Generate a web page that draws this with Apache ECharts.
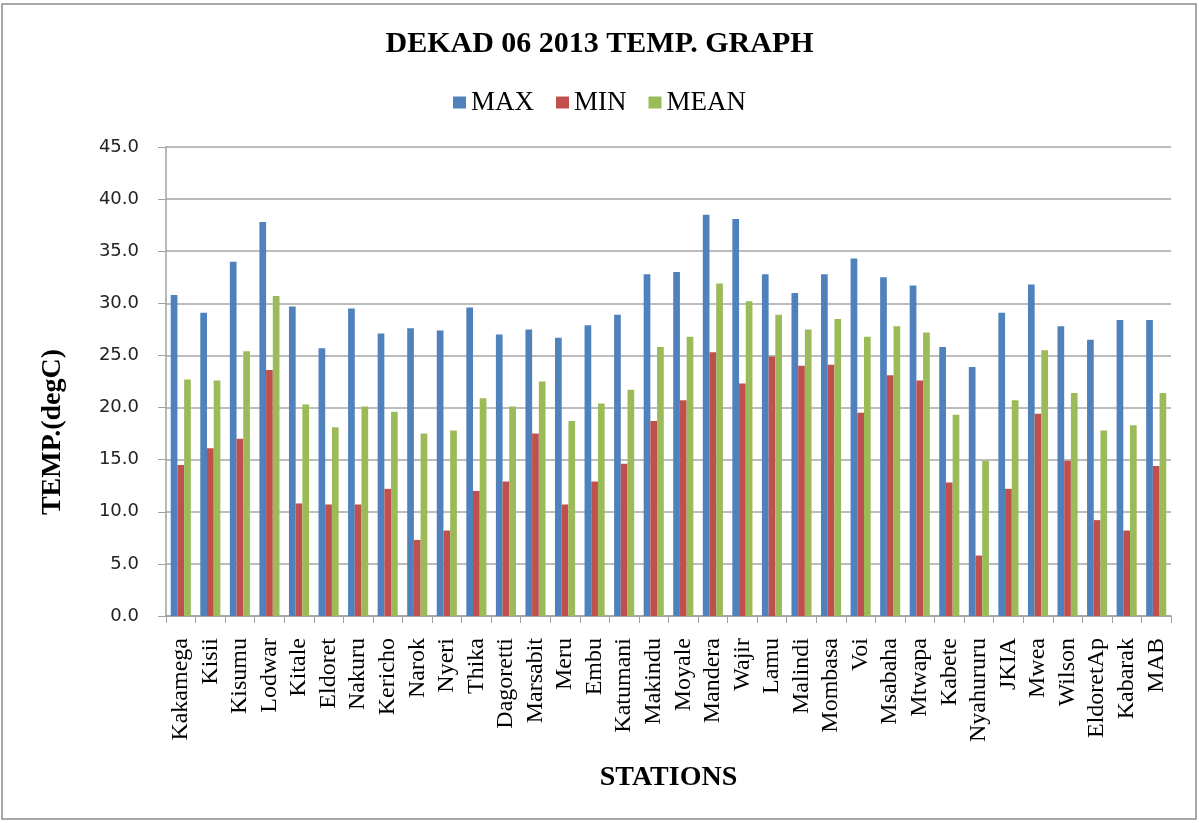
<!DOCTYPE html>
<html>
<head>
<meta charset="utf-8">
<script src="https://cdn.jsdelivr.net/npm/echarts@6/dist/echarts.min.js"></script>
<style>
  html, body { margin: 0; padding: 0; background: #fff; }
  #chart { width: 1199px; height: 823px; }
</style>
</head>
<body>
<div id="chart"></div>
<script>
var stations = ['Kakamega', 'Kisii', 'Kisumu', 'Lodwar', 'Kitale', 'Eldoret', 'Nakuru', 'Kericho',
  'Narok', 'Nyeri', 'Thika', 'Dagoretti', 'Marsabit', 'Meru', 'Embu', 'Katumani', 'Makindu',
  'Moyale', 'Mandera', 'Wajir', 'Lamu', 'Malindi', 'Mombasa', 'Voi', 'Msabaha', 'Mtwapa',
  'Kabete', 'Nyahururu', 'JKIA', 'Mwea', 'Wilson', 'EldoretAp', 'Kabarak', 'MAB'];

var maxTemp = [30.8, 29.1, 34.0, 37.8, 29.7, 25.7, 29.5, 27.1, 27.6, 27.4, 29.6, 27.0, 27.5,
  26.7, 27.9, 28.9, 32.8, 33.0, 38.5, 38.1, 32.8, 31.0, 32.8, 34.3, 32.5, 31.7, 25.8, 23.9,
  29.1, 31.8, 27.8, 26.5, 28.4, 28.4];

var minTemp = [14.5, 16.1, 17.0, 23.6, 10.8, 10.7, 10.7, 12.2, 7.3, 8.2, 12.0, 12.9, 17.5,
  10.7, 12.9, 14.6, 18.7, 20.7, 25.3, 22.3, 24.9, 24.0, 24.1, 19.5, 23.1, 22.6, 12.8, 5.8,
  12.2, 19.4, 14.9, 9.2, 8.2, 14.4];

var meanTemp = [22.7, 22.6, 25.4, 30.7, 20.3, 18.1, 20.1, 19.6, 17.5, 17.8, 20.9, 20.1, 22.5,
  18.7, 20.4, 21.7, 25.8, 26.8, 31.9, 30.2, 28.9, 27.5, 28.5, 26.8, 27.8, 27.2, 19.3, 14.9,
  20.7, 25.5, 21.4, 17.8, 18.3, 21.4];

var seriesNames = ['MAX', 'MIN', 'MEAN'];
var seriesColors = ['#4F81BD', '#C0504D', '#9BBB59'];
var seriesData = [maxTemp, minTemp, meanTemp];

var serif = 'Liberation Serif';

var chart = echarts.init(document.getElementById('chart'));

var option = {
  animation: false,
  backgroundColor: '#fff',
  title: {
    text: 'DEKAD 06 2013 TEMP. GRAPH',
    left: 'center',
    top: 24,
    textStyle: { fontFamily: serif, fontWeight: 'bold', fontSize: 30, color: '#000' }
  },
  legend: {
    data: seriesNames,
    top: 84,
    left: 'center',
    icon: 'rect',
    itemWidth: 13,
    itemHeight: 12,
    itemGap: 22,
    textStyle: { fontFamily: serif, fontSize: 27, color: '#000' }
  },
  grid: { left: 166, right: 28, top: 147, bottom: 207 },
  xAxis: {
    type: 'category',
    data: stations,
    name: 'STATIONS',
    nameLocation: 'middle',
    nameGap: 148,
    nameTextStyle: { fontFamily: serif, fontWeight: 'bold', fontSize: 28, color: '#000' },
    axisLine: { lineStyle: { color: '#a0a0a0', width: 1.5 } },
    axisTick: { show: true, length: 7, lineStyle: { color: '#a0a0a0' } },
    axisLabel: {
      rotate: 90,
      interval: 0,
      margin: 22,
      fontFamily: serif,
      fontSize: 24,
      color: '#000'
    }
  },
  yAxis: {
    type: 'value',
    min: 0,
    max: 45,
    interval: 5,
    axisLine: { show: true, lineStyle: { color: '#a0a0a0', width: 1.5 } },
    axisTick: { show: true, length: 8, lineStyle: { color: '#a0a0a0' } },
    splitLine: { lineStyle: { color: '#a6a6a6', width: 1.5 } },
    axisLabel: {
      margin: 27,
      fontFamily: 'DejaVu Sans',
      fontSize: 18,
      color: '#222',
      formatter: function (v) { return v.toFixed(1); }
    }
  },
  graphic: [
    {
      type: 'rect',
      shape: { x: 2, y: 4, width: 1194, height: 815 },
      style: { fill: 'none', stroke: '#8c8c8c', lineWidth: 1.5 },
      silent: true
    },
    {
      // y-axis title, placed by hand so it sits a little below the axis middle as in the source
      type: 'text',
      x: 53,
      y: 432,
      rotation: Math.PI / 2,
      style: {
        text: 'TEMP.(degC)',
        font: 'bold 28px "Liberation Serif"',
        fill: '#000',
        textAlign: 'center',
        textVerticalAlign: 'middle'
      }
    }
  ],
  series: seriesNames.map(function (name, i) {
    return {
      name: name,
      type: 'bar',
      data: seriesData[i],
      barGap: 0,
      barCategoryGap: '32%',
      itemStyle: { color: seriesColors[i] }
    };
  })
};

chart.setOption(option);
</script>
</body>
</html>
